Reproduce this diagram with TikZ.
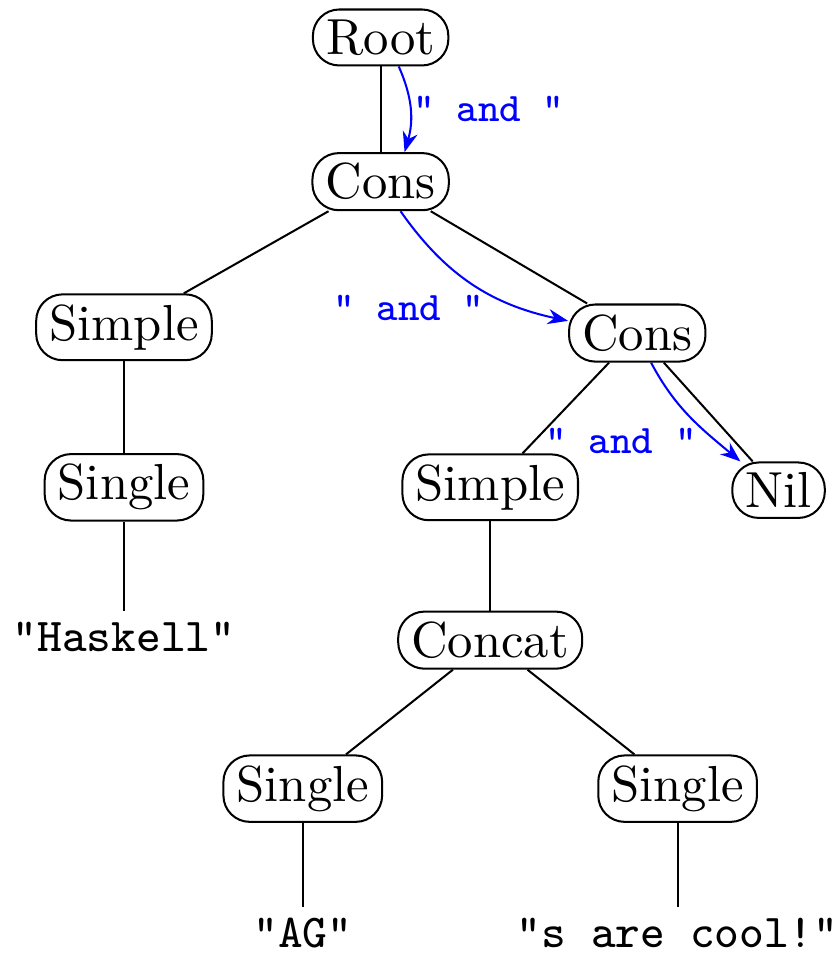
\documentclass[tikz,border=0pt]{standalone}
\usepackage{tikz}
\usetikzlibrary{arrows.meta,positioning}

\begin{document}
\begin{tikzpicture}[
  agnode/.style={draw,rounded corners=5.2pt,inner xsep=2.6pt,inner ysep=2pt},
  leaf/.style={font=\fontsize{9.3}{11}\selectfont\ttfamily,inner sep=2pt},
  flow/.style={-{Stealth[length=4pt,width=3pt]},blue},
  sep/.style={font=\footnotesize\ttfamily,blue,inner sep=2pt}]
  \useasboundingbox (0,0) rectangle (5.80,-6.61);
  % Spine of the list
  \node[agnode] (root) at (2.64,-0.26) {Root};
  \node[agnode] (cons1) at (2.64,-1.26) {Cons};
  \node[agnode] (cons2) at (4.42,-2.31) {Cons};
  \node[agnode] (nil) at (5.40,-3.40) {Nil};
  % First element
  \node[agnode] (simple1) at (0.86,-2.27) {Simple};
  \node[agnode] (single1) at (0.86,-3.38) {Single};
  \node[leaf] (str1) at (0.86,-4.42) {"Haskell"};
  % Second element
  \node[agnode] (simple2) at (3.40,-3.38) {Simple};
  \node[agnode] (concat) at (3.40,-4.44) {Concat};
  \node[agnode] (single2) at (2.10,-5.47) {Single};
  \node[agnode] (single3) at (4.70,-5.47) {Single};
  \node[leaf] (str2) at (2.10,-6.47) {"AG"};
  \node[leaf] (str3) at (4.70,-6.47) {"s are cool!"};
  % Tree edges
  \foreach \a/\b in {root/cons1,cons1/simple1,cons1/cons2,cons2/simple2,cons2/nil,
    simple1/single1,single1/str1,simple2/concat,concat/single2,concat/single3,
    single2/str2,single3/str3}
    \draw (\a) -- (\b);
  % Separator passed down the spine
  \draw[flow] (root.-58) to[bend left=20] node[sep,right,inner sep=0.5pt]{" and "} (cons1.51);
  \draw[flow] (cons1.-56) to[out=-55,in=168] node[sep,anchor=north east,xshift=4.5pt]{" and "} (cons2.170);
  \draw[flow] (cons2.-65) to[out=-62,in=140] node[sep,anchor=north east,xshift=3.5pt]{" and "} (nil.143);
\end{tikzpicture}
\end{document}
